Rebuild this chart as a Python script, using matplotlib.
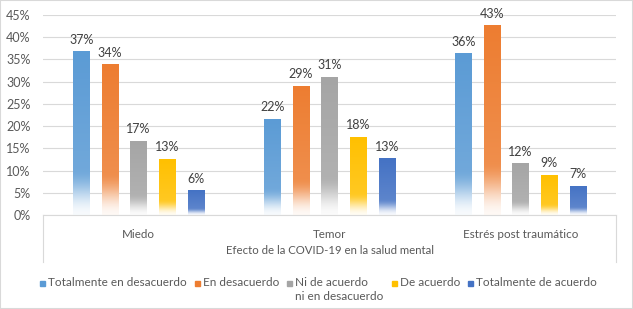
import matplotlib
matplotlib.use("Agg")
import matplotlib.pyplot as plt
import numpy as np
from matplotlib.patches import Rectangle
from matplotlib.colors import to_rgb

categories = ["Miedo", "Temor", "Estrés post traumático"]
series = ["Totalmente en desacuerdo", "En desacuerdo", "Ni de acuerdo\nni en desacuerdo",
          "De acuerdo", "Totalmente de acuerdo"]
totalmente_desacuerdo = [36.8, 21.6, 36.4]
en_desacuerdo = [33.9, 29.1, 42.7]
ni_ni = [16.7, 31.1, 11.6]
de_acuerdo = [12.6, 17.6, 9.0]
totalmente_acuerdo = [5.6, 12.8, 6.6]
values = [totalmente_desacuerdo, en_desacuerdo, ni_ni, de_acuerdo, totalmente_acuerdo]
colors = ["#5B9BD5", "#ED7D31", "#A5A5A5", "#FFC000", "#4472C4"]
y_ticks = [0, 5, 10, 15, 20, 25, 30, 35, 40, 45]
axis_title = "Efecto de la COVID-19 en la salud mental"

plt.rcParams['font.family'] = ['Lato', 'DejaVu Sans']
W, H = 633, 309
fig = plt.figure(figsize=(W / 100, H / 100), dpi=100)
ax = fig.add_axes([43 / W, 1 - 215 / H, (616 - 43) / W, 200 / H])

slot = 0.150
bw = 0.084
x = np.arange(len(categories))
txt_col = "#595959"


def gradient(color, n=256):
    c = np.array(to_rgb(color))
    t = np.linspace(0, 1, n)[:, None]
    base = c * (1 - 0.18 * (1 - t)) + 0.18 * (1 - t)
    g = np.clip(t / 0.28, 0, 1)
    g = 0.06 + 0.94 * (g * g * (3 - 2 * g))
    rgb = base * g + (1 - g)
    return np.repeat(rgb[:, None, :], 2, axis=1)


for i, (vals, col) in enumerate(zip(values, colors)):
    bars = ax.bar(x + (i - 2) * slot, vals, bw, color=col, zorder=2)
    for rect in bars:
        x0 = rect.get_x()
        h = rect.get_height()
        img = gradient(col)
        im = ax.imshow(img, extent=[x0, x0 + rect.get_width(), 0, h],
                       aspect='auto', origin='lower', zorder=2, interpolation='bilinear')
        im.set_clip_path(rect)
        rect.set_facecolor('none')
        rect.set_edgecolor('none')
    ax.bar_label(bars, labels=[f"{v:.0f}%" for v in vals], padding=4,
                 fontsize=9, color="#404040")

ax.set_xlim(-0.5, len(categories) - 0.5)
ax.set_ylim(0, 45)
ax.set_aspect('auto')
ax.set_yticks(y_ticks)
ax.set_yticklabels([f"{v}%" for v in y_ticks])
ax.yaxis.grid(True, color="#D9D9D9", lw=0.8, zorder=0)
ax.set_axisbelow(True)
for s in ["top", "right", "left"]:
    ax.spines[s].set_visible(False)
ax.spines["bottom"].set_color("#D9D9D9")
ax.tick_params(axis='y', length=0, pad=9, labelsize=9, labelcolor=txt_col)
ax.set_xticks(x)
ax.set_xticklabels(categories)
ax.tick_params(axis='x', length=0, pad=10, labelsize=8.4, labelcolor=txt_col)

for xx in (0, 1):
    ax.plot([xx, xx], [0, -47 / 200], transform=ax.transAxes, color="#D9D9D9",
            lw=0.8, clip_on=False)

fig.text((43 + 616) / 2 / W, 1 - 250.5 / H, axis_title, ha='center', va='center',
         fontsize=8.2, color=txt_col)

# legend
fig.canvas.draw()
r = fig.canvas.get_renderer()
xpos = 40
yc = 283.5
sq = 5
for name, col in zip(series, colors):
    fig.patches.append(Rectangle((xpos / W, 1 - (yc + sq / 2) / H), sq / W, sq / H,
                                 transform=fig.transFigure, color=col))
    t = fig.text((xpos + sq + 3) / W, 1 - (yc - 6.5) / H, name, ha='left', va='top',
                 fontsize=8.5, color=txt_col, linespacing=1.3)
    bb = t.get_window_extent(renderer=r)
    xpos = xpos + sq + 3 + bb.width + 8

fig.patches.append(Rectangle((0, 0), 1, 1, transform=fig.transFigure, fill=False,
                             ec="#D9D9D9", lw=1.5))
fig.savefig("out.png", dpi=100)
